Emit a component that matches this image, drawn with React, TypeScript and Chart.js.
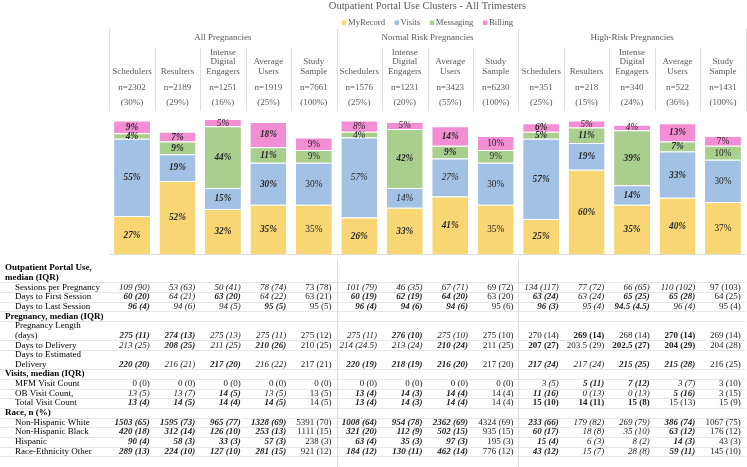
import React, { useEffect, useRef } from "react";
import { Chart, registerables } from "chart.js";
Chart.register(...registerables);

// ---------- chart data ----------
const groupTitles = ["All Pregnancies", "Normal Risk Pregnancies", "High-Risk Pregnancies"];
const groupSizes = [5, 4, 5];
const clusterNames = [
  "Schedulers", "Resulters", "Intense\nDigital\nEngagers", "Average\nUsers", "Study\nSample",
  "Schedulers", "Intense\nDigital\nEngagers", "Average\nUsers", "Study\nSample",
  "Schedulers", "Resulters", "Intense\nDigital\nEngagers", "Average\nUsers", "Study\nSample",
];
const clusterN = ["2302", "2189", "1251", "1919", "7661", "1576", "1231", "3423", "6230", "351", "218", "340", "522", "1431"];
const clusterPct = ["30%", "29%", "16%", "25%", "100%", "25%", "20%", "55%", "100%", "25%", "15%", "24%", "36%", "100%"];

const seriesNames = ["MyRecord", "Visits", "Messaging", "Billing"];
const myRecord = [27, 52, 32, 35, 35, 26, 33, 41, 35, 25, 60, 35, 40, 37];
const visits = [55, 19, 15, 30, 30, 57, 14, 27, 30, 57, 19, 14, 33, 30];
const messaging = [4, 9, 44, 11, 9, 4, 42, 9, 9, 5, 11, 39, 7, 10];
const billing = [9, 7, 5, 18, 9, 8, 5, 14, 10, 6, 5, 4, 13, 7];

// label styles: B bold italic, I italic, N normal, b bold
const myRecordStyle = "BBBBNBBBNBBBBN";
const visitsStyle = "BBBBNIIINBBBBN";
const messagingStyle = "BBBBNIBBNBBBBN";
const billingStyle = "BBIBNIIBNBIIBN";

// ---------- table data ----------
const sessionsPerPregnancy = ["109 (90)", "53 (63)", "50 (41)", "78 (74)", "73 (78)", "101 (79)", "46 (35)", "67 (71)", "69 (72)", "134 (117)", "77 (72)", "66 (65)", "110 (102)", "97 (103)"];
const daysToFirstSession = ["60 (20)", "64 (21)", "63 (20)", "64 (22)", "63 (21)", "60 (19)", "62 (19)", "64 (20)", "63 (20)", "63 (24)", "63 (24)", "65 (25)", "65 (28)", "64 (25)"];
const daysToLastSession = ["96 (4)", "94 (6)", "94 (5)", "95 (5)", "95 (5)", "96 (4)", "94 (6)", "94 (6)", "95 (6)", "96 (3)", "95 (4)", "94.5 (4.5)", "96 (4)", "95 (4)"];
const pregnancyLength = ["275 (11)", "274 (13)", "275 (13)", "275 (11)", "275 (12)", "275 (11)", "276 (10)", "275 (10)", "275 (10)", "270 (14)", "269 (14)", "268 (14)", "270 (14)", "269 (14)"];
const daysToDelivery = ["213 (25)", "208 (25)", "211 (25)", "210 (26)", "210 (25)", "214 (24.5)", "213 (24)", "210 (24)", "211 (25)", "207 (27)", "203.5 (29)", "202.5 (27)", "204 (29)", "204 (28)"];
const daysToEstDelivery = ["220 (20)", "216 (21)", "217 (20)", "216 (22)", "217 (21)", "220 (19)", "218 (19)", "216 (20)", "217 (20)", "217 (24)", "217 (24)", "215 (25)", "215 (28)", "216 (25)"];
const mfmVisitCount = ["0 (0)", "0 (0)", "0 (0)", "0 (0)", "0 (0)", "0 (0)", "0 (0)", "0 (0)", "0 (0)", "3 (5)", "5 (11)", "7 (12)", "3 (7)", "3 (10)"];
const obVisitCount = ["13 (5)", "13 (7)", "14 (5)", "13 (5)", "13 (5)", "13 (4)", "14 (3)", "14 (4)", "14 (4)", "11 (16)", "0 (13)", "0 (13)", "5 (16)", "3 (15)"];
const totalVisitCount = ["13 (4)", "14 (5)", "14 (4)", "14 (5)", "14 (5)", "13 (4)", "14 (3)", "14 (4)", "14 (4)", "15 (10)", "14 (11)", "15 (8)", "15 (13)", "15 (9)"];
const nonHispanicWhite = ["1503 (65)", "1595 (73)", "965 (77)", "1328 (69)", "5391 (70)", "1008 (64)", "954 (78)", "2362 (69)", "4324 (69)", "233 (66)", "179 (82)", "269 (79)", "386 (74)", "1067 (75)"];
const nonHispanicBlack = ["420 (18)", "312 (14)", "126 (10)", "253 (13)", "1111 (15)", "321 (20)", "112 (9)", "502 (15)", "935 (15)", "60 (17)", "18 (8)", "35 (10)", "63 (12)", "176 (12)"];
const hispanic = ["90 (4)", "58 (3)", "33 (3)", "57 (3)", "238 (3)", "63 (4)", "35 (3)", "97 (3)", "195 (3)", "15 (4)", "6 (3)", "8 (2)", "14 (3)", "43 (3)"];
const raceOther = ["289 (13)", "224 (10)", "127 (10)", "281 (15)", "921 (12)", "184 (12)", "130 (11)", "462 (14)", "776 (12)", "43 (12)", "15 (7)", "28 (8)", "59 (11)", "145 (10)"];

const sessionsStyle = "IIIINIIINIIIIN";
const firstStyle = "BIBINBBBNBIBBN";
const lastStyle = "BIIBNBBBNBIBIN";
const lengthStyle = "BBIINIBINNbNbN";
const deliveryStyle = "IBIBNIIBNbNbbN";
const estStyle = "BIBINBBBNBIBBN";
const mfmStyle = "NNNNNNNNNIBBIN";
const obStyle = "IIBINBBBNBIIBN";
const totalStyle = "BBBBNBBBNbbbNN";
const raceStyle = "BBBBNBBBNBIIBN";

type TRow = { head?: boolean; lines: string[]; values?: string[]; styles?: string };
const tableRows: TRow[] = [
  { head: true, lines: ["Outpatient Portal Use,", "median (IQR)"] },
  { lines: ["Sessions per Pregnancy"], values: sessionsPerPregnancy, styles: sessionsStyle },
  { lines: ["Days to First Session"], values: daysToFirstSession, styles: firstStyle },
  { lines: ["Days to Last Session"], values: daysToLastSession, styles: lastStyle },
  { head: true, lines: ["Pregnancy, median (IQR)"] },
  { lines: ["Pregnancy Length", "(days)"], values: pregnancyLength, styles: lengthStyle },
  { lines: ["Days to Delivery"], values: daysToDelivery, styles: deliveryStyle },
  { lines: ["Days to Estimated", "Delivery"], values: daysToEstDelivery, styles: estStyle },
  { head: true, lines: ["Visits, median (IQR)"] },
  { lines: ["MFM Visit Count"], values: mfmVisitCount, styles: mfmStyle },
  { lines: ["OB Visit Count,"], values: obVisitCount, styles: obStyle },
  { lines: ["Total Visit Count"], values: totalVisitCount, styles: totalStyle },
  { head: true, lines: ["Race, n (%)"] },
  { lines: ["Non-Hispanic White"], values: nonHispanicWhite, styles: raceStyle },
  { lines: ["Non-Hispanic Black"], values: nonHispanicBlack, styles: raceStyle },
  { lines: ["Hispanic"], values: hispanic, styles: raceStyle },
  { lines: ["Race-Ethnicity Other"], values: raceOther, styles: raceStyle },
];

// ---------- styling ----------
const COLORS = ["#F9D674", "#A3C1E4", "#A9CF8F", "#F38ED4"];
const FAMILY = '"Liberation Serif", "Times New Roman", serif';
const GRID = "#DCDCDC";
function font(size: number, st: string) {
  const it = st === "B" || st === "I" ? "italic " : "";
  const bd = st === "B" || st === "b" ? "bold " : "";
  return `${it}${bd}${size}px ${FAMILY}`;
}

const overlay = {
  id: "overlay",
  beforeDatasetsDraw(chart: any) {
    const ctx = chart.ctx;
    const ca = chart.chartArea;
    ctx.save();
    ctx.strokeStyle = GRID;
    ctx.lineWidth = 1;
    ctx.beginPath();
    ctx.moveTo(ca.left, Math.round(ca.bottom) + 0.5);
    ctx.lineTo(ca.right, Math.round(ca.bottom) + 0.5);
    ctx.stroke();
    ctx.restore();
  },
  afterDatasetsDraw(chart: any) {
    const ctx = chart.ctx;
    const ca = chart.chartArea;
    const xs = chart.scales.x;
    const n = clusterNames.length;
    const centers = clusterNames.map((_, i) => xs.getPixelForValue(i));
    const half = (centers[1] - centers[0]) / 2;
    const midX = (ca.left + ca.right) / 2;
    ctx.save();
    ctx.textBaseline = "middle";

    // title
    ctx.fillStyle = "#595959";
    ctx.textAlign = "center";
    ctx.font = `10.5px ${FAMILY}`;
    ctx.fillText("Outpatient Portal Use Clusters - All Trimesters", midX, 6);

    // legend
    ctx.font = `8.7px ${FAMILY}`;
    const box = 4.5, gapT = 1.5, gapI = 9.5;
    const widths = seriesNames.map((s) => ctx.measureText(s).width);
    const total = widths.reduce((a, w) => a + box + gapT + w, 0) + gapI * (seriesNames.length - 1);
    let lx = midX - total / 2;
    ctx.textAlign = "left";
    seriesNames.forEach((s, i) => {
      ctx.fillStyle = COLORS[i];
      ctx.fillRect(lx, 22.7 - box / 2, box, box);
      ctx.fillStyle = "#595959";
      ctx.fillText(s, lx + box + gapT, 23);
      lx += box + gapT + widths[i] + gapI;
    });

    // header separators
    ctx.strokeStyle = GRID;
    ctx.lineWidth = 1;
    let start = 0;
    const groupEdges: number[] = [Math.round(centers[0] - half) + 0.5];
    groupSizes.forEach((sz, g) => {
      const left = centers[start] - half;
      const right = centers[start + sz - 1] + half;
      groupEdges.push(Math.round(right) + 0.5);
      ctx.fillStyle = "#595959";
      ctx.textAlign = "center";
      ctx.font = `9px ${FAMILY}`;
      ctx.fillText(groupTitles[g], (left + right) / 2, 38);
      for (let k = 1; k < sz; k++) {
        const x = Math.round(centers[start + k] - half) + 0.5;
        ctx.beginPath();
        ctx.moveTo(x, 48);
        ctx.lineTo(x, 111);
        ctx.stroke();
      }
      start += sz;
    });
    groupEdges.forEach((x) => {
      ctx.beginPath();
      ctx.moveTo(x, 29);
      ctx.lineTo(x, 111);
      ctx.stroke();
    });

    // column headers
    ctx.fillStyle = "#595959";
    ctx.font = `9px ${FAMILY}`;
    ctx.textAlign = "center";
    for (let i = 0; i < n; i++) {
      const lines = clusterNames[i].split("\n");
      lines.forEach((ln, k) => {
        ctx.fillText(ln, centers[i], 71.3 - (lines.length - 1 - k) * 9.3);
      });
      ctx.fillText(`n=${clusterN[i]}`, centers[i], 88);
      ctx.fillText(`(${clusterPct[i]})`, centers[i], 103);
    }

    // segment labels
    const styles = [myRecordStyle, visitsStyle, messagingStyle, billingStyle];
    ctx.fillStyle = "#262626";
    chart.data.datasets.forEach((ds: any, di: number) => {
      const meta = chart.getDatasetMeta(di);
      meta.data.forEach((el: any, i: number) => {
        const y = (el.y + el.base) / 2;
        ctx.font = font(9.3, styles[di][i]);
        ctx.fillText(`${ds.data[i]}%`, el.x, y + 0.5);
      });
    });

    // table
    const pitch = 9.65;
    const y0 = 268;
    let line = 0;
    const bounds: number[] = [];
    tableRows.forEach((r) => {
      r.lines.forEach((ln, k) => {
        const y = y0 + (line + k) * pitch;
        ctx.textAlign = "left";
        ctx.fillStyle = "#000";
        ctx.font = r.head ? `bold 9px ${FAMILY}` : `9px ${FAMILY}`;
        ctx.fillText(ln, r.head ? 5 : 15, y);
      });
      const lastY = y0 + (line + r.lines.length - 1) * pitch;
      if (r.values) {
        ctx.textAlign = "right";
        r.values.forEach((v, i) => {
          ctx.font = font(9, r.styles![i]);
          ctx.fillStyle = "#1a1a1a";
          ctx.fillText(v, centers[i] + half - 5, lastY);
        });
      }
      line += r.lines.length;
      bounds.push(lastY + pitch / 2);
    });
    ctx.strokeStyle = "#E6E6E6";
    bounds.forEach((b) => {
      const y = Math.round(b) + 0.5;
      ctx.beginPath();
      ctx.moveTo(0, y);
      ctx.lineTo(ca.right, y);
      ctx.stroke();
    });
    ctx.strokeStyle = GRID;
    [groupEdges[1], groupEdges[2]].forEach((x) => {
      ctx.beginPath();
      ctx.moveTo(x, 260);
      ctx.lineTo(x, 467);
      ctx.stroke();
    });
    ctx.restore();
  },
};

export default function App() {
  const ref = useRef<HTMLCanvasElement | null>(null);
  useEffect(() => {
    if (!ref.current) return;
    const series = [myRecord, visits, messaging, billing];
    const chart = new Chart(ref.current, {
      type: "bar",
      data: {
        labels: clusterNames.map((c) => c.replace(/\n/g, " ")),
        datasets: series.map((d, i) => ({
          label: seriesNames[i],
          data: d,
          backgroundColor: COLORS[i],
          borderColor: "rgba(255,255,255,0.9)",
          borderWidth: { top: 1, bottom: 0, left: 0, right: 0 },
          borderSkipped: false,
          categoryPercentage: 1,
          barPercentage: 0.79,
        })),
      },
      options: {
        responsive: false,
        animation: false,
        devicePixelRatio: 1,
        layout: { padding: { left: 109.3, right: 1.3, top: 113.5, bottom: 213 } },
        scales: {
          x: { stacked: true, display: false, offset: true },
          y: { stacked: true, display: false, min: 0, max: 100 },
        },
        plugins: { legend: { display: false }, title: { display: false }, tooltip: { enabled: false } },
      },
      plugins: [overlay],
    });
    return () => chart.destroy();
  }, []);
  return (
    <div style={{ position: "absolute", left: 0, top: 0, width: 747, height: 467, background: "#fff" }}>
      <canvas ref={ref} width={747} height={467} style={{ width: 747, height: 467, display: "block" }} />
    </div>
  );
}
